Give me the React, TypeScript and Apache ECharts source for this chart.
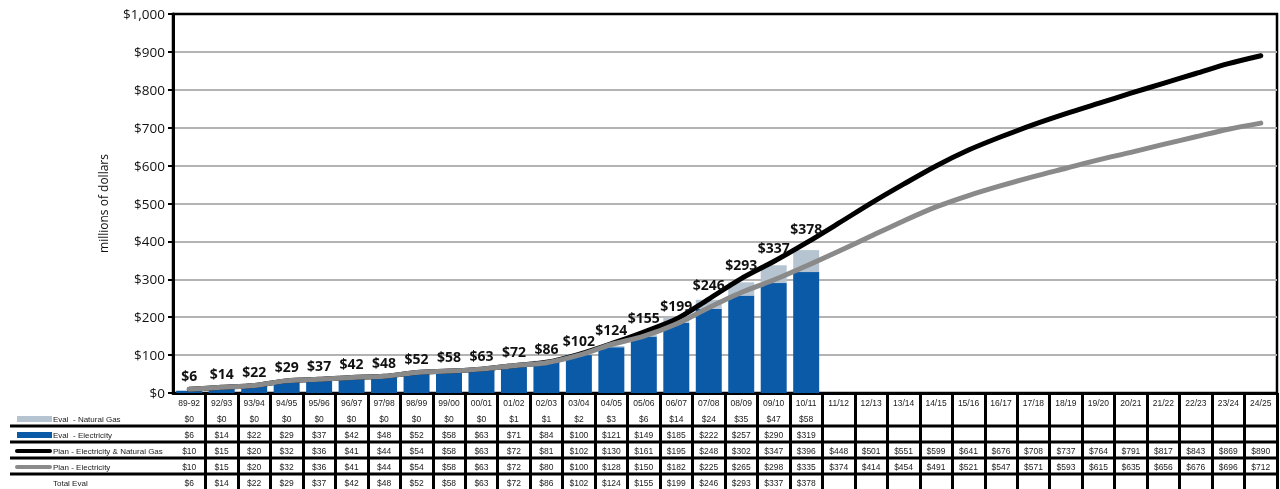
import React, { useEffect, useRef } from 'react';
import * as echarts from 'echarts';

const periods = ['89-92', '92/93', '93/94', '94/95', '95/96', '96/97', '97/98', '98/99', '99/00', '00/01', '01/02', '02/03', '03/04', '04/05', '05/06', '06/07', '07/08', '08/09', '09/10', '10/11', '11/12', '12/13', '13/14', '14/15', '15/16', '16/17', '17/18', '18/19', '19/20', '20/21', '21/22', '22/23', '23/24', '24/25'];
const evalGas = [0, 0, 0, 0, 0, 0, 0, 0, 0, 0, 1, 1, 2, 3, 6, 14, 24, 35, 47, 58];
const evalElec = [6, 14, 22, 29, 37, 42, 48, 52, 58, 63, 71, 84, 100, 121, 149, 185, 222, 257, 290, 319];
const planTotal = [10, 15, 20, 32, 36, 41, 44, 54, 58, 63, 72, 81, 102, 130, 161, 195, 248, 302, 347, 396, 448, 501, 551, 599, 641, 676, 708, 737, 764, 791, 817, 843, 869, 890];
const planElec = [10, 15, 20, 32, 36, 41, 44, 54, 58, 63, 72, 80, 100, 128, 150, 182, 225, 265, 298, 335, 374, 414, 454, 491, 521, 547, 571, 593, 615, 635, 656, 676, 696, 712];
const totalEval = [6, 14, 22, 29, 37, 42, 48, 52, 58, 63, 72, 86, 102, 124, 155, 199, 246, 293, 337, 378];

const rowNames = ['Eval  - Natural Gas', 'Eval  - Electricity', 'Plan - Electricity & Natural Gas', 'Plan - Electricity', 'Total Eval'];
const tableRows = [evalGas, evalElec, planTotal, planElec, totalEval];

const GAS = '#b5c4d0';
const ELEC = '#0b5aa8';
const PLAN_ALL = '#000000';
const PLAN_ELEC = '#8a8a8a';
const FONT = '"Open Sans", "Noto Sans", sans-serif';
const SMALL = '"Liberation Sans", Arial, sans-serif';
const TEXT = '#1a1a1a';

const GRID_LEFT = 173;
const GRID_TOP = 14;
const GRID_BOTTOM = 96;
const ROW_H = 16;
const AXIS_Y = 489 - GRID_BOTTOM;

export default function App() {
  const ref = useRef<HTMLDivElement>(null);
  useEffect(() => {
    if (!ref.current) return;
    const chart = echarts.init(ref.current, undefined, { renderer: 'svg' });

    const rowAxes = tableRows.map((arr, k) => ({
      type: 'category',
      gridIndex: 0,
      position: 'bottom',
      offset: ROW_H * (k + 1),
      data: periods,
      axisLine: { show: false },
      axisTick: { show: false },
      splitLine: { show: false },
      axisLabel: {
        interval: 0,
        margin: 5,
        fontSize: 8.5,
        color: TEXT,
        fontFamily: SMALL,
        formatter: (_v: string, i: number) => (arr[i] == null ? '' : '$' + arr[i]),
      },
    }));

    const legendMarks = [
      { type: 'rect', shape: { x: 17, y: AXIS_Y + 23, width: 35, height: 6 }, style: { fill: GAS } },
      { type: 'rect', shape: { x: 17, y: AXIS_Y + 39, width: 35, height: 6 }, style: { fill: ELEC } },
      { type: 'line', shape: { x1: 17, y1: AXIS_Y + 58, x2: 50, y2: AXIS_Y + 58 }, style: { stroke: PLAN_ALL, lineWidth: 4, lineCap: 'round' } },
      { type: 'line', shape: { x1: 17, y1: AXIS_Y + 74, x2: 50, y2: AXIS_Y + 74 }, style: { stroke: PLAN_ELEC, lineWidth: 4, lineCap: 'round' } },
    ];
    const legendTexts = rowNames.map((t, k) => ({
      type: 'text',
      x: 53,
      y: AXIS_Y + 26 + ROW_H * k,
      style: { text: t, fontSize: 8, fontFamily: SMALL, fill: TEXT, verticalAlign: 'middle' },
    }));
    const hLines = [0, 1, 2, 3].map((k) => ({
      type: 'line',
      shape: { x1: 10, y1: AXIS_Y + 33 + ROW_H * k, x2: 1277, y2: AXIS_Y + 33 + ROW_H * k },
      style: { stroke: '#000', lineWidth: 3 },
    }));

    chart.setOption({
      animation: false,
      textStyle: { fontFamily: FONT },
      grid: {
        left: GRID_LEFT,
        right: 3,
        top: GRID_TOP,
        bottom: GRID_BOTTOM,
        show: true,
        borderColor: '#000',
        borderWidth: 2.5,
        backgroundColor: 'transparent',
      },
      xAxis: [
        {
          type: 'category',
          data: periods,
          position: 'bottom',
          axisLine: { lineStyle: { color: '#000', width: 3 } },
          axisTick: {
            show: true,
            interval: (i: number) => i !== 0,
            length: GRID_BOTTOM,
            lineStyle: { color: '#000', width: 3 },
          },
          axisLabel: { interval: 0, margin: 5, fontSize: 8.5, color: TEXT, fontFamily: SMALL },
          splitLine: { show: false },
        },
        ...rowAxes,
      ],
      yAxis: {
        type: 'value',
        min: 0,
        max: 1000,
        interval: 100,
        axisLine: { show: true, lineStyle: { color: '#000', width: 3 } },
        axisTick: { show: true, length: 5, lineStyle: { color: '#000', width: 2 } },
        axisLabel: {
          fontSize: 13.5,
          color: '#111',
          margin: 8,
          formatter: (v: number) => '$' + v.toLocaleString('en-US'),
        },
        splitLine: { showMaxLine: false, showMinLine: false, lineStyle: { color: '#b3b3b3', width: 2 } },
        name: 'millions of dollars',
        nameLocation: 'middle',
        nameGap: 64,
        nameTextStyle: { fontSize: 12, color: '#111' },
      },
      graphic: [...hLines, ...legendMarks, ...legendTexts],
      series: [
        {
          name: 'Eval  - Electricity',
          type: 'bar',
          stack: 'eval',
          data: evalElec,
          barWidth: '80%',
          itemStyle: { color: ELEC },
        },
        {
          name: 'Eval  - Natural Gas',
          type: 'bar',
          stack: 'eval',
          data: evalGas,
          barWidth: '80%',
          itemStyle: { color: GAS },
        },
        {
          name: 'Plan - Electricity & Natural Gas',
          type: 'line',
          data: planTotal,
          symbol: 'circle',
          symbolSize: 0.1,
          showSymbol: true,
          showAllSymbol: true,
          smooth: 0.3,
          itemStyle: { color: PLAN_ALL },
          lineStyle: { color: PLAN_ALL, width: 5, cap: 'round', join: 'round' },
          label: {
            show: true,
            position: 'top',
            distance: 7,
            fontSize: 14,
            fontWeight: 'bold',
            color: '#111',
            formatter: (p: any) => (totalEval[p.dataIndex] == null ? '' : '$' + totalEval[p.dataIndex]),
          },
          labelLayout: { hideOverlap: false },
        },
        {
          name: 'Plan - Electricity',
          type: 'line',
          data: planElec,
          symbol: 'none',
          smooth: 0.3,
          lineStyle: { color: PLAN_ELEC, width: 5, cap: 'round', join: 'round' },
        },
      ],
    });
    return () => chart.dispose();
  }, []);
  return <div ref={ref} style={{ position: 'fixed', left: 0, top: 0, width: 1280, height: 489 }} />;
}
